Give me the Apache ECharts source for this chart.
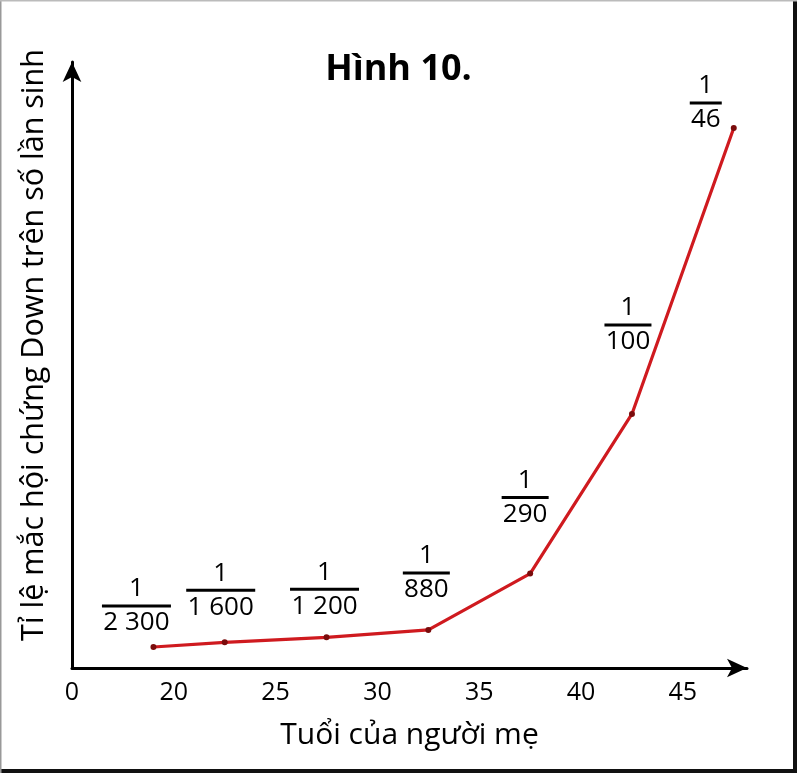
<!DOCTYPE html>
<html>
<head>
<meta charset="utf-8">
<script src="https://cdn.jsdelivr.net/npm/echarts@6/dist/echarts.min.js"></script>
<style>
html,body{margin:0;padding:0;background:#fff;}
#chart{width:797px;height:773px;}
</style>
</head>
<body>
<div id="chart"></div>
<script>
// Data
var ages = [19, 22.5, 27.5, 32.5, 37.5, 42.5, 47.5];
var denominators = ['2 300', '1 600', '1 200', '880', '290', '100', '46'];
var rates = [1/2300, 1/1600, 1/1200, 1/880, 1/290, 1/100, 1/46];
var xTickLabelFirst = '0';

// layout of the fraction labels (not data)
var labelOffsets = [[-17,-8],[-4,-19],[-2,-15],[-2,-24],[-5,-43],[-4,-56],[-28,8]];

var FONT = 'Open Sans';
var FRAC_SIZE = 26;
var chart = echarts.init(document.getElementById('chart'));

var measureCtx = document.createElement('canvas').getContext('2d');
measureCtx.font = FRAC_SIZE + 'px "' + FONT + '"';

function fractionRich(text) {
  var w = Math.ceil(measureCtx.measureText(text).width) + 2;
  return {
    n: { fontFamily: FONT, fontSize: FRAC_SIZE, color: '#000', lineHeight: 26, align: 'center' },
    l: { width: w, height: 3, lineHeight: 8, backgroundColor: '#000', fontSize: 4, align: 'center' },
    d: { fontFamily: FONT, fontSize: FRAC_SIZE, color: '#000', lineHeight: 26, align: 'center' }
  };
}

var seriesData = ages.map(function (a, i) {
  return {
    value: [a, rates[i]],
    label: { offset: labelOffsets[i], rich: fractionRich(denominators[i]) }
  };
});

chart.setOption({
  backgroundColor: '#fff',
  animation: false,
  title: {
    text: 'Hình 10.',
    left: 'center',
    top: 47,
    textStyle: { fontFamily: FONT, fontSize: 36, fontWeight: 'bold', color: '#000' }
  },
  grid: { left: 72, right: 50, top: 62, bottom: 105, containLabel: false },
  xAxis: {
    type: 'value',
    min: 15,
    max: 48.15,
    interval: 5,
    name: 'Tuổi của người mẹ',
    nameLocation: 'middle',
    nameGap: 52,
    nameTextStyle: { fontFamily: FONT, fontSize: 30, color: '#000' },
    axisLine: {
      onZero: false,
      symbol: ['none', 'arrow'],
      symbolSize: [14, 20],
      lineStyle: { color: '#000', width: 3 }
    },
    axisTick: { show: false },
    splitLine: { show: false },
    axisLabel: {
      showMaxLabel: false,
      margin: 12,
      fontFamily: FONT,
      fontSize: 25,
      color: '#000',
      formatter: function (v) { return v === 15 ? xTickLabelFirst : String(v); }
    }
  },
  yAxis: {
    type: 'value',
    min: -0.000427,
    max: 0.024448,
    name: 'Tỉ lệ mắc hội chứng Down trên số lần sinh',
    nameLocation: 'middle',
    nameGap: 22,
    nameTextStyle: { fontFamily: FONT, fontSize: 30.5, color: '#000', padding: [0, 0, 0, 40] },
    axisLine: {
      onZero: false,
      symbol: ['none', 'arrow'],
      symbolSize: [14, 20],
      lineStyle: { color: '#000', width: 3 }
    },
    axisTick: { show: false },
    axisLabel: { show: false },
    splitLine: { show: false }
  },
  series: [{
    type: 'line',
    data: seriesData,
    symbol: 'circle',
    symbolSize: 6,
    lineStyle: { color: '#cf1a1f', width: 3.2 },
    itemStyle: { color: '#7a0c0c' },
    label: {
      show: true,
      position: 'top',
      distance: 0,
      formatter: function (p) {
        return '{n|1}\n{l| }\n{d|' + denominators[p.dataIndex] + '}';
      }
    }
  }],
  graphic: [
    { type: 'rect', shape: { x: 793, y: 0, width: 4, height: 773 }, style: { fill: '#111' }, silent: true },
    { type: 'rect', shape: { x: 0, y: 769, width: 797, height: 4 }, style: { fill: '#111' }, silent: true },
    { type: 'rect', shape: { x: 0, y: 0, width: 1.5, height: 773 }, style: { fill: '#999' }, silent: true },
    { type: 'rect', shape: { x: 0, y: 0, width: 797, height: 1.5 }, style: { fill: '#bbb' }, silent: true }
  ]
});
</script>
</body>
</html>
